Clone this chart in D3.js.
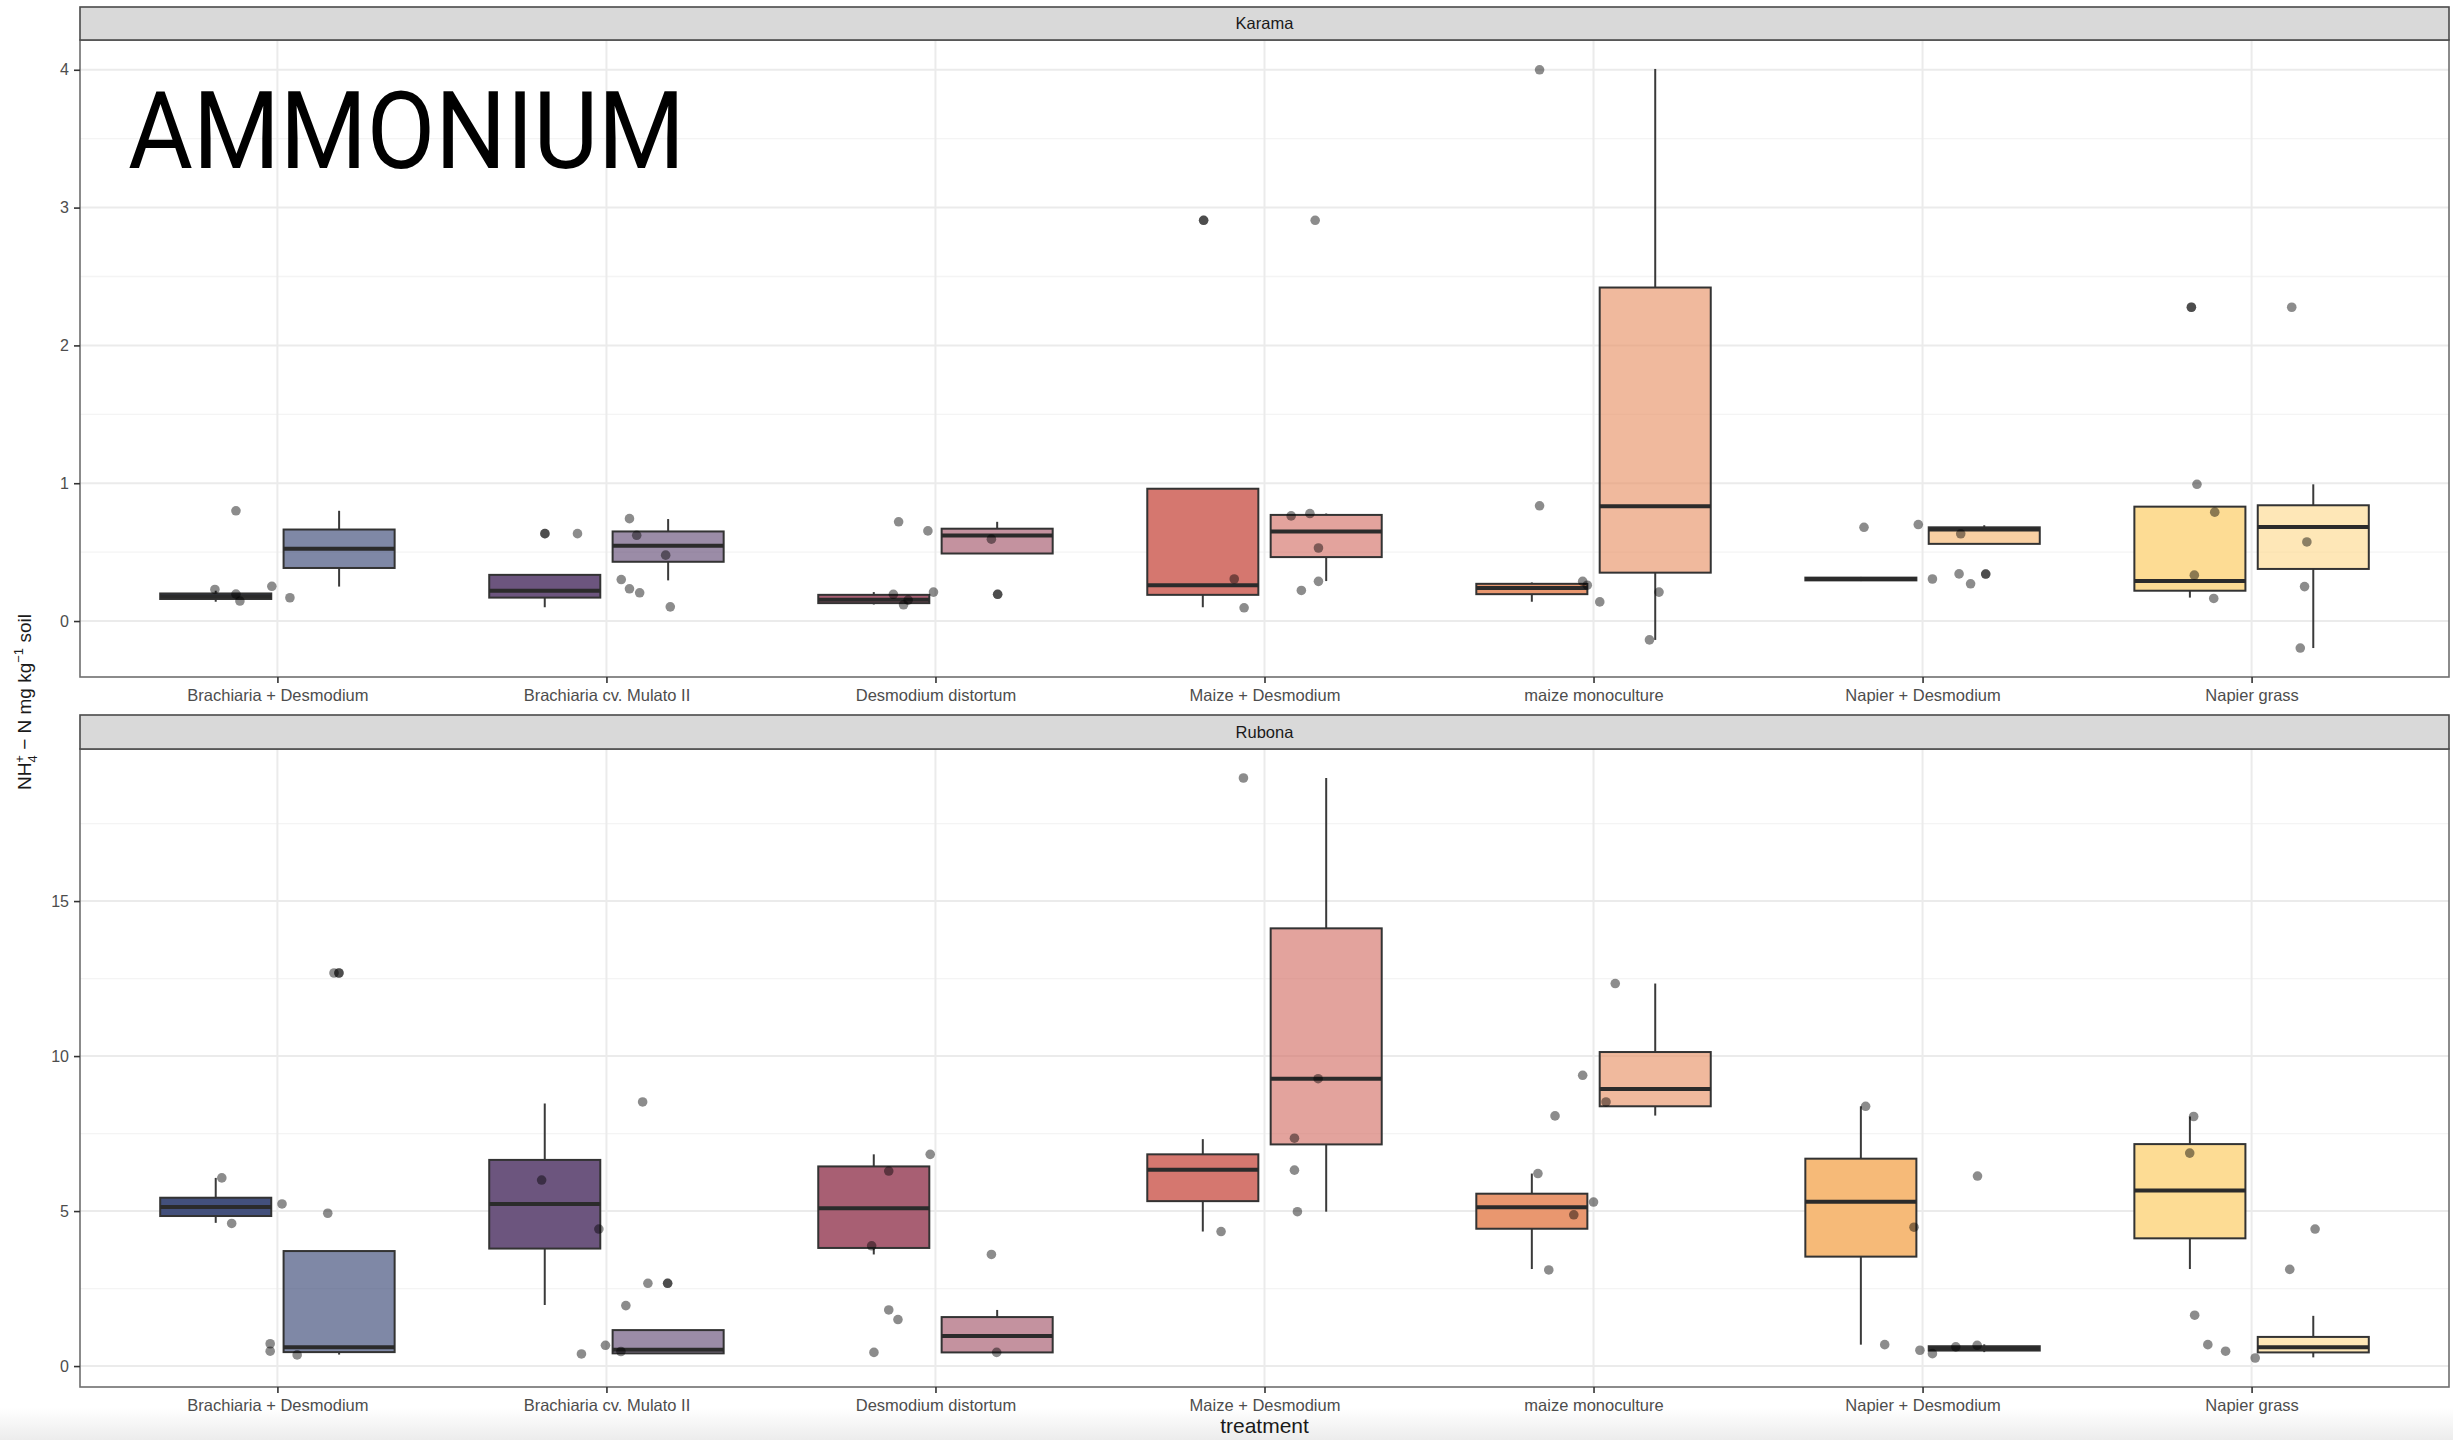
<!DOCTYPE html>
<html>
<head>
<meta charset="utf-8">
<script src="https://cdn.jsdelivr.net/npm/d3@7"></script>
<style>
  body { margin: 0; background: #fff; }
  svg { display: block; }
</style>
</head>
<body>
<svg id="chart" width="2453" height="1440"></svg>
<script>
// ---- data -------------------------------------------------------------
const treatments = [
  "Brachiaria + Desmodium", "Brachiaria cv. Mulato II", "Desmodium distortum",
  "Maize + Desmodium", "maize monoculture", "Napier + Desmodium", "Napier grass"
];
const sites = ["Karama", "Rubona"];
const samplings = ["first", "second"];
const karamaTicks = [0, 1, 2, 3, 4];
const rubonaTicks = [0, 5, 10, 15];

// box statistics per treatment: [lower whisker, Q1, median, Q3, upper whisker]
const karamaFirst = [
  [0.14, 0.16, 0.18, 0.20, 0.22],
  [0.10, 0.17, 0.22, 0.335, 0.335],
  [0.12, 0.13, 0.155, 0.19, 0.21],
  [0.10, 0.19, 0.26, 0.96, 0.96],
  [0.14, 0.195, 0.24, 0.27, 0.28],
  [0.29, 0.295, 0.305, 0.315, 0.32],
  [0.17, 0.22, 0.29, 0.83, 0.83]
];
const karamaSecond = [
  [0.25, 0.385, 0.524, 0.664, 0.80],
  [0.295, 0.43, 0.547, 0.65, 0.74],
  [0.49, 0.49, 0.62, 0.67, 0.72],
  [0.29, 0.464, 0.65, 0.77, 0.78],
  [-0.137, 0.351, 0.833, 2.42, 4.006],
  [0.56, 0.56, 0.664, 0.68, 0.695],
  [-0.196, 0.378, 0.683, 0.84, 0.992]
];
const rubonaFirst = [
  [4.62, 4.84, 5.13, 5.43, 6.07],
  [1.97, 3.79, 5.23, 6.65, 8.47],
  [3.60, 3.81, 5.09, 6.44, 6.83],
  [4.34, 5.32, 6.33, 6.83, 7.32],
  [3.13, 4.43, 5.12, 5.56, 6.21],
  [0.69, 3.53, 5.30, 6.69, 8.38],
  [3.13, 4.12, 5.66, 7.16, 8.05]
];
const rubonaSecond = [
  [0.37, 0.45, 0.61, 3.71, 3.71],
  [0.41, 0.41, 0.53, 1.16, 1.16],
  [0.44, 0.44, 0.97, 1.58, 1.81],
  [4.98, 7.15, 9.27, 14.12, 18.97],
  [8.08, 8.38, 8.94, 10.13, 12.34],
  [0.45, 0.50, 0.57, 0.64, 0.70],
  [0.28, 0.44, 0.61, 0.94, 1.62]
];

// individual observations: [treatment index, jitter (category units), value]
const karamaPoints = [
  [0, -0.126, 0.80], [0, -0.19, 0.229], [0, -0.126, 0.195], [0, -0.114, 0.145], [0, -0.017, 0.252], [0, 0.038, 0.169],
  [1, -0.187, 0.634], [1, -0.187, 0.634], [1, -0.088, 0.634], [1, 0.070, 0.743], [1, 0.092, 0.622], [1, 0.180, 0.478],
  [1, 0.045, 0.301], [1, 0.070, 0.234], [1, 0.101, 0.205], [1, 0.194, 0.103],
  [2, -0.112, 0.72], [2, -0.023, 0.654], [2, 0.170, 0.594], [2, -0.128, 0.194], [2, -0.097, 0.118], [2, -0.083, 0.152],
  [2, -0.006, 0.21], [2, 0.189, 0.194], [2, 0.189, 0.194],
  [3, -0.185, 2.908], [3, -0.185, 2.908], [3, 0.154, 2.908], [3, -0.092, 0.305], [3, -0.062, 0.096], [3, 0.081, 0.763],
  [3, 0.138, 0.78], [3, 0.164, 0.53], [3, 0.164, 0.288], [3, 0.112, 0.222],
  [4, -0.164, 4.0], [4, -0.164, 0.836], [4, -0.033, 0.288], [4, -0.019, 0.26], [4, 0.019, 0.139], [4, 0.199, 0.21], [4, 0.170, -0.137],
  [5, -0.178, 0.68], [5, -0.013, 0.70], [5, 0.116, 0.633], [5, 0.030, 0.305], [5, 0.111, 0.342], [5, 0.146, 0.27],
  [5, 0.192, 0.341], [5, 0.192, 0.341],
  [6, -0.183, 2.277], [6, -0.183, 2.277], [6, 0.122, 2.277], [6, -0.166, 0.992], [6, -0.112, 0.79], [6, -0.174, 0.333],
  [6, -0.115, 0.164], [6, 0.168, 0.574], [6, 0.161, 0.25], [6, 0.148, -0.196]
];
const rubonaPoints = [
  [0, -0.169, 6.07], [0, -0.139, 4.6], [0, 0.014, 5.23], [0, 0.153, 4.93], [0, 0.172, 12.68], [0, 0.187, 12.68],
  [0, 0.187, 12.68], [0, -0.022, 0.72], [0, -0.022, 0.48], [0, 0.060, 0.36],
  [1, -0.197, 6.0], [1, -0.023, 4.42], [1, 0.110, 8.52], [1, 0.126, 2.67], [1, 0.186, 2.67], [1, 0.186, 2.67],
  [1, 0.059, 1.95], [1, -0.003, 0.67], [1, -0.076, 0.39], [1, 0.044, 0.47],
  [2, -0.016, 6.83], [2, -0.142, 6.29], [2, -0.194, 3.88], [2, 0.170, 3.6], [2, -0.142, 1.81], [2, -0.114, 1.5],
  [2, -0.187, 0.44], [2, 0.186, 0.44],
  [3, -0.064, 18.97], [3, -0.132, 4.34], [3, 0.163, 9.27], [3, 0.091, 7.35], [3, 0.091, 6.32], [3, 0.100, 4.98],
  [4, 0.066, 12.34], [4, -0.033, 9.38], [4, -0.117, 8.07], [4, 0.038, 8.52], [4, -0.169, 6.21], [4, 0.0, 5.29],
  [4, -0.060, 4.88], [4, -0.136, 3.1],
  [5, -0.173, 8.38], [5, -0.026, 4.48], [5, 0.167, 6.13], [5, -0.115, 0.69], [5, -0.008, 0.51], [5, 0.030, 0.4],
  [5, 0.101, 0.62], [5, 0.166, 0.67],
  [6, -0.176, 8.05], [6, -0.188, 6.87], [6, 0.193, 4.42], [6, 0.116, 3.12], [6, -0.173, 1.64], [6, -0.133, 0.69],
  [6, -0.079, 0.48], [6, 0.011, 0.26]
];

// ---- styling ----------------------------------------------------------
const palette = ["#3d4a78", "#67507a", "#a55a6e", "#d4736a", "#e8946a", "#f6b874", "#fddb91"];
const samplingOpacity = [0.97, 0.66];
const FONT = "'Liberation Sans', Arial, Helvetica, sans-serif";

const svg = d3.select("#chart");
const W = 2453, H = 1440;
const panelLeft = 80, panelRight = 2449;

// soft grey fade along the bottom edge
const defs = svg.append("defs");
const fade = defs.append("linearGradient").attr("id", "bottomFade")
  .attr("x1", 0).attr("y1", 0).attr("x2", 0).attr("y2", 1);
fade.append("stop").attr("offset", "0%").attr("stop-color", "#ffffff");
fade.append("stop").attr("offset", "100%").attr("stop-color", "#ececec");
svg.append("rect").attr("x", 0).attr("y", 0).attr("width", W).attr("height", H).attr("fill", "#fff");
svg.append("rect").attr("x", 0).attr("y", 1408).attr("width", W).attr("height", 32).attr("fill", "url(#bottomFade)");

// categorical x scale shared by both facets (ggplot-style 0.6 expansion)
const x = d3.scalePoint().domain(treatments).range([panelLeft, panelRight]).padding(0.6);
const step = x.step();
const dodge = d3.scalePoint().domain(samplings).range([-0.1875 * step, 0.1875 * step]);
const boxWidth = 0.3375 * step;

const facets = [
  { site: sites[0], stripTop: 7, top: 40, bottom: 677, ticks: karamaTicks,
    boxes: [karamaFirst, karamaSecond], points: karamaPoints },
  { site: sites[1], stripTop: 715, top: 749, bottom: 1387, ticks: rubonaTicks,
    boxes: [rubonaFirst, rubonaSecond], points: rubonaPoints }
];

facets.forEach(f => {
  // y domain: data range with 5% expansion
  const vals = f.boxes.flat(2).concat(f.points.map(p => p[2]));
  const [lo, hi] = d3.extent(vals);
  const pad = (hi - lo) * 0.05;
  const y = d3.scaleLinear().domain([lo - pad, hi + pad]).range([f.bottom, f.top]);

  const g = svg.append("g");

  // grid: minor, major, vertical
  const t = f.ticks;
  const tstep = t[1] - t[0];
  const minor = d3.range(t[0] - tstep / 2, hi + pad, tstep).filter(v => v > lo - pad);
  g.selectAll(".minor").data(minor).join("line")
    .attr("x1", panelLeft).attr("x2", panelRight)
    .attr("y1", d => y(d)).attr("y2", d => y(d))
    .attr("stroke", "#f4f4f4").attr("stroke-width", 1.3);
  g.selectAll(".major").data(t).join("line")
    .attr("x1", panelLeft).attr("x2", panelRight)
    .attr("y1", d => y(d)).attr("y2", d => y(d))
    .attr("stroke", "#ebebeb").attr("stroke-width", 2);
  g.selectAll(".vgrid").data(treatments).join("line")
    .attr("x1", d => x(d)).attr("x2", d => x(d))
    .attr("y1", f.top).attr("y2", f.bottom)
    .attr("stroke", "#ebebeb").attr("stroke-width", 2);

  // boxplots
  f.boxes.forEach((stats, si) => {
    stats.forEach((s, ti) => {
      const cx = x(treatments[ti]) + dodge(samplings[si]);
      const [wLo, q1, med, q3, wHi] = s;
      const bg = g.append("g");
      bg.append("line").attr("x1", cx).attr("x2", cx).attr("y1", y(q3)).attr("y2", y(wHi))
        .attr("stroke", "#3a3a3a").attr("stroke-width", 2);
      bg.append("line").attr("x1", cx).attr("x2", cx).attr("y1", y(q1)).attr("y2", y(wLo))
        .attr("stroke", "#3a3a3a").attr("stroke-width", 2);
      bg.append("rect")
        .attr("x", cx - boxWidth / 2).attr("width", boxWidth)
        .attr("y", y(q3)).attr("height", Math.max(0.5, y(q1) - y(q3)))
        .attr("fill", palette[ti]).attr("fill-opacity", samplingOpacity[si])
        .attr("stroke", "#333").attr("stroke-width", 2);
      bg.append("line").attr("x1", cx - boxWidth / 2).attr("x2", cx + boxWidth / 2)
        .attr("y1", y(med)).attr("y2", y(med))
        .attr("stroke", "#2b2b2b").attr("stroke-width", 4);
    });
  });

  // jittered observations
  g.selectAll(".pt").data(f.points).join("circle")
    .attr("cx", d => x(treatments[d[0]]) + d[1] * step)
    .attr("cy", d => y(d[2]))
    .attr("r", 4.8)
    .attr("fill", "#000").attr("fill-opacity", 0.45);

  // panel border
  g.append("rect").attr("x", panelLeft).attr("y", f.top)
    .attr("width", panelRight - panelLeft).attr("height", f.bottom - f.top)
    .attr("fill", "none").attr("stroke", "#6e6e6e").attr("stroke-width", 1.6);

  // strip
  g.append("rect").attr("x", panelLeft).attr("y", f.stripTop)
    .attr("width", panelRight - panelLeft).attr("height", f.top - f.stripTop)
    .attr("fill", "#d9d9d9").attr("stroke", "#4a4a4a").attr("stroke-width", 1.6);
  g.append("text").attr("x", (panelLeft + panelRight) / 2).attr("y", (f.stripTop + f.top) / 2)
    .attr("dy", "0.36em").attr("text-anchor", "middle")
    .attr("font-family", FONT).attr("font-size", 16.5).attr("fill", "#1a1a1a")
    .text(f.site);

  // y axis
  const ya = g.append("g").attr("transform", `translate(${panelLeft},0)`)
    .call(d3.axisLeft(y).tickValues(t).tickFormat(d3.format("d")).tickSize(6).tickPadding(5));
  ya.select(".domain").remove();
  ya.selectAll("line").attr("stroke", "#333").attr("stroke-width", 1.6);
  ya.selectAll("text").attr("font-family", FONT).attr("font-size", 16).attr("fill", "#4d4d4d");

  // x axis
  const xa = g.append("g").attr("transform", `translate(0,${f.bottom})`)
    .call(d3.axisBottom(x).tickSize(6).tickPadding(6));
  xa.select(".domain").remove();
  xa.selectAll("line").attr("stroke", "#333").attr("stroke-width", 1.6);
  xa.selectAll("text").attr("font-family", FONT).attr("font-size", 16.5).attr("fill", "#4d4d4d");
});

// axis titles
svg.append("text").attr("x", (panelLeft + panelRight) / 2).attr("y", 1433)
  .attr("text-anchor", "middle").attr("font-family", FONT).attr("font-size", 21).attr("fill", "#1a1a1a")
  .text("treatment");

const yl = svg.append("text")
  .attr("transform", "translate(31,702) rotate(-90)")
  .attr("text-anchor", "middle").attr("font-family", FONT).attr("font-size", 19).attr("fill", "#1a1a1a");
yl.append("tspan").text("NH");
yl.append("tspan").attr("font-size", 13).attr("dy", 6).text("4");
yl.append("tspan").attr("font-size", 13).attr("dx", -7.5).attr("dy", -13).text("+");
yl.append("tspan").attr("dy", 7).text(" \u2212 N  mg kg");
yl.append("tspan").attr("font-size", 13).attr("dy", -8).text("\u22121");
yl.append("tspan").attr("dy", 8).text(" soil");

// headline
svg.append("text").attr("x", 128).attr("y", 168)
  .attr("font-family", "Roboto, 'Open Sans', sans-serif").attr("font-size", 108)
  .attr("textLength", 557).attr("lengthAdjust", "spacingAndGlyphs")
  .attr("fill", "#000").text("AMMONIUM");
</script>
</body>
</html>
